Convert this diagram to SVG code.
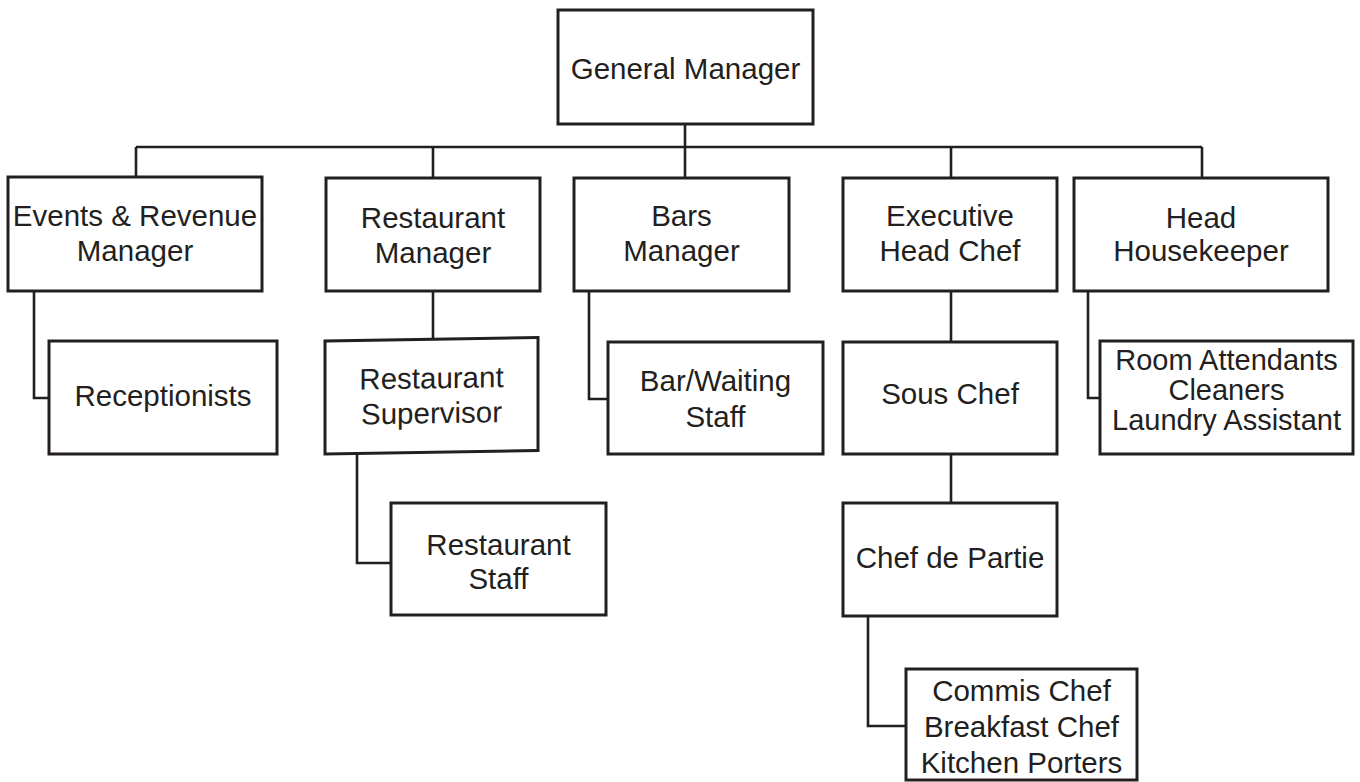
<svg xmlns="http://www.w3.org/2000/svg" width="1360" height="782" viewBox="0 0 1360 782">
<style>
  .box { fill: #ffffff; stroke: #231f20; stroke-width: 3; }
  .lbl { font-family: "Liberation Sans", Arial, Helvetica, sans-serif; font-size: 29.5px; fill: #231f20; text-anchor: middle; }
  .tight { font-size: 29px; }
  .conn { fill: none; stroke: #231f20; stroke-width: 2.6; }
</style>
<rect width="1360" height="782" fill="#ffffff"/>
<g id="connectors" class="conn">
  <path d="M685,124 V147"/>
  <path d="M136,147 H1202"/>
  <path d="M136,147 V177"/>
  <path d="M433,147 V178"/>
  <path d="M685,147 V178"/>
  <path d="M951,147 V178"/>
  <path d="M1202,147 V178"/>
  <path d="M34,291 V398 H49"/>
  <path d="M433,291 V339"/>
  <path d="M357,453 V563 H391"/>
  <path d="M589,291 V399 H608"/>
  <path d="M951,291 V342"/>
  <path d="M951,454 V503"/>
  <path d="M868,616 V726 H906"/>
  <path d="M1088,291 V398 H1100"/>
</g>
<g id="general-manager">
  <rect class="box" x="558" y="10" width="255" height="114"/>
  <text class="lbl" x="685.5" y="79">General Manager</text>
</g>
<g id="events-revenue-manager">
  <rect class="box" x="8" y="177" width="254" height="114"/>
  <text class="lbl" x="135" y="226">Events &amp; Revenue</text>
  <text class="lbl" x="135" y="261">Manager</text>
</g>
<g id="restaurant-manager">
  <rect class="box" x="326" y="178" width="214" height="113"/>
  <text class="lbl" x="433" y="228">Restaurant</text>
  <text class="lbl" x="433" y="263">Manager</text>
</g>
<g id="bars-manager">
  <rect class="box" x="574" y="178" width="215" height="113"/>
  <text class="lbl" x="681.5" y="226">Bars</text>
  <text class="lbl" x="681.5" y="261">Manager</text>
</g>
<g id="executive-head-chef">
  <rect class="box" x="843" y="178" width="214" height="113"/>
  <text class="lbl" x="950" y="226">Executive</text>
  <text class="lbl" x="950" y="261">Head Chef</text>
</g>
<g id="head-housekeeper">
  <rect class="box" x="1074" y="178" width="254" height="113"/>
  <text class="lbl" x="1201" y="228">Head</text>
  <text class="lbl" x="1201" y="261">Housekeeper</text>
</g>
<g id="receptionists">
  <rect class="box" x="49" y="341" width="228" height="113"/>
  <text class="lbl" x="163" y="406">Receptionists</text>
</g>
<g id="restaurant-supervisor" transform="matrix(1 -0.0164 0 1 0 5.33)">
  <rect class="box" x="325" y="341" width="213" height="113"/>
  <text class="lbl" x="431.5" y="390">Restaurant</text>
  <text class="lbl" x="431.5" y="425">Supervisor</text>
</g>
<g id="bar-waiting-staff">
  <rect class="box" x="608" y="342" width="215" height="112"/>
  <text class="lbl" x="715.5" y="391">Bar/Waiting</text>
  <text class="lbl" x="715.5" y="427">Staff</text>
</g>
<g id="sous-chef">
  <rect class="box" x="843" y="342" width="214" height="112"/>
  <text class="lbl" x="950" y="404">Sous Chef</text>
</g>
<g id="room-attendants">
  <rect class="box" x="1100" y="341" width="253" height="113"/>
  <text class="lbl tight" x="1226.5" y="370">Room Attendants</text>
  <text class="lbl tight" x="1226.5" y="400">Cleaners</text>
  <text class="lbl tight" x="1226.5" y="430">Laundry Assistant</text>
</g>
<g id="restaurant-staff">
  <rect class="box" x="391" y="503" width="215" height="112"/>
  <text class="lbl" x="498.5" y="555">Restaurant</text>
  <text class="lbl" x="498.5" y="589">Staff</text>
</g>
<g id="chef-de-partie">
  <rect class="box" x="843" y="503" width="214" height="113"/>
  <text class="lbl" x="950" y="568">Chef de Partie</text>
</g>
<g id="commis-chef">
  <rect class="box" x="906" y="669" width="231" height="111"/>
  <text class="lbl" x="1021.5" y="701">Commis Chef</text>
  <text class="lbl" x="1021.5" y="737">Breakfast Chef</text>
  <text class="lbl" x="1021.5" y="773">Kitchen Porters</text>
</g>
</svg>
